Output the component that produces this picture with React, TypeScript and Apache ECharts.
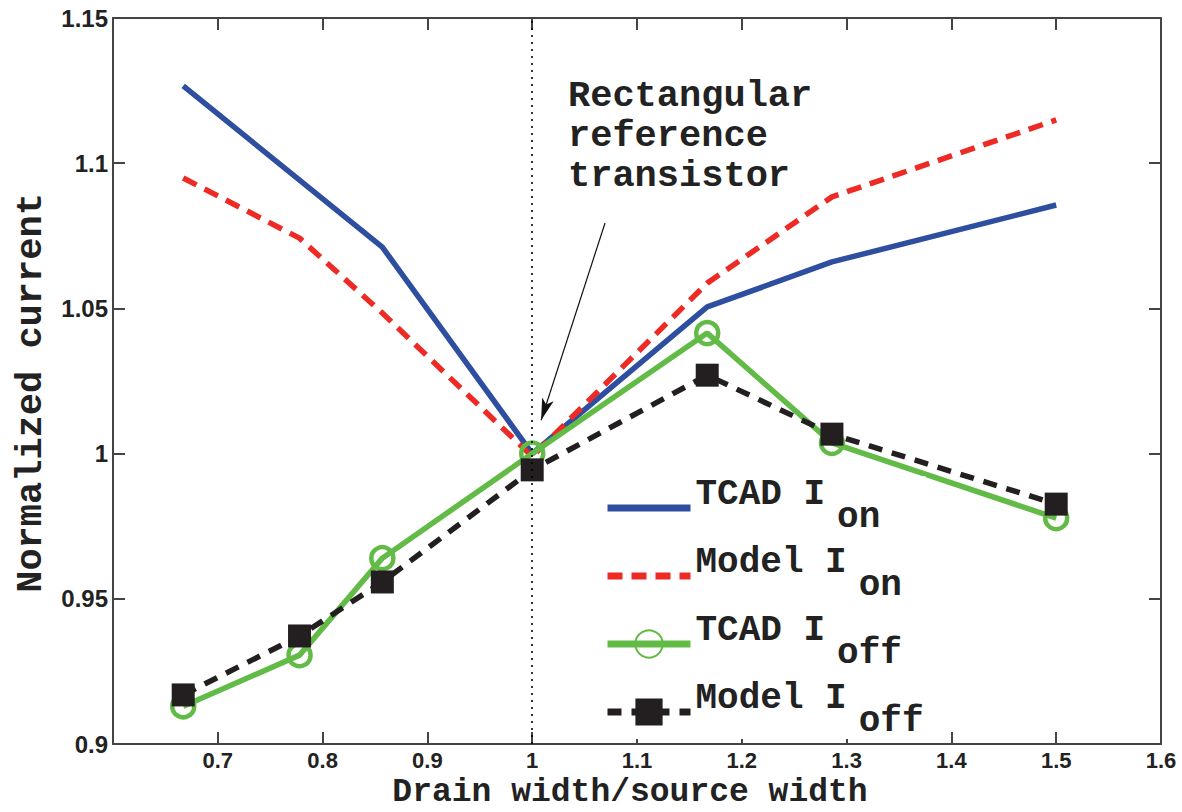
import React, { useEffect, useRef } from 'react';
import * as echarts from 'echarts';

// Drain width / source width ratios (x)
const ratios = [0.667, 0.778, 0.857, 1.0, 1.167, 1.286, 1.5];
// Normalized currents (y)
const tcadIon = [1.1266, 1.0942, 1.0711, 1.0, 1.0505, 1.066, 1.0856];
const modelIon = [1.0949, 1.0742, 1.0484, 0.999, 1.0587, 1.0884, 1.1149];
const tcadIoff = [0.913, 0.9306, 0.964, 1.0, 1.0415, 1.0037, 0.9778];
const modelIoff = [0.9169, 0.9372, 0.9558, 0.9944, 1.027, 1.0067, 0.9826];

const seriesNames = ['TCAD Ion', 'Model Ion', 'TCAD Ioff', 'Model Ioff'];
const legendMain = ['TCAD I', 'Model I', 'TCAD I', 'Model I'];
const legendSub = ['on', 'on', 'off', 'off'];
const legendHasMarker = [false, false, true, true];

const xMin = 0.6, xMax = 1.6, xStep = 0.1;
const yMin = 0.9, yMax = 1.15, yStep = 0.05;
const hiddenXTick = 0.6;

const referenceRatio = 1;
const annotationLines = ['Rectangular', 'reference', 'transistor'];
const arrowFrom = [1.0695, 1.0794];
const arrowTo = [1.0085, 1.0115];

const MONO = '"Liberation Mono", "Courier New", monospace';
const SANS = '"Liberation Sans", Arial, Helvetica, sans-serif';

const zip = (xs: number[], ys: number[]) => xs.map((x, i) => [x, ys[i]]);

export default function App() {
  const ref = useRef<HTMLDivElement>(null);
  useEffect(() => {
    document.body.style.margin = '0';
    const chart = echarts.init(ref.current!, null, { renderer: 'svg' });
    const axisLine = { show: true, lineStyle: { color: '#444', width: 2 } };
    const tick = { show: true, inside: true, length: 12, lineStyle: { color: '#444', width: 2 } };
    const fmtNum = (v: number) => String(parseFloat(v.toFixed(2)));
    const option: any = {
      animation: false,
      backgroundColor: '#fff',
      grid: { left: 113, right: 21, top: 18, bottom: 68, containLabel: false, outerBoundsMode: 'none' },
      xAxis: [
        {
          type: 'value', min: xMin, max: xMax, interval: xStep,
          axisLine, axisTick: tick, splitLine: { show: false },
          axisLabel: {
            margin: 5, color: '#222', fontFamily: SANS, fontSize: 22, lineHeight: 22, fontWeight: 'bold',
            formatter: (v: number) => (Math.abs(v - hiddenXTick) < 1e-9 ? '' : fmtNum(v)),
          },
          name: 'Drain width/source width', nameLocation: 'middle', nameGap: 32, nameMoveOverlap: false,
          nameTextStyle: { fontFamily: MONO, fontSize: 33, lineHeight: 33, fontWeight: 'bold', color: '#222', padding: [0, 14, 0, 0] },
        },
        {
          type: 'value', position: 'top', min: xMin, max: xMax, interval: xStep,
          axisLine, axisTick: tick, axisLabel: { show: false }, splitLine: { show: false },
        },
      ],
      yAxis: [
        {
          type: 'value', min: yMin, max: yMax, interval: yStep,
          axisLine, axisTick: tick, splitLine: { show: false },
          axisLabel: {
            margin: 5, color: '#222', fontFamily: SANS, fontSize: 24, fontWeight: 'bold',
            formatter: (v: number) => fmtNum(v),
          },
          name: 'Normalized current', nameLocation: 'middle', nameGap: 64, nameMoveOverlap: false,
          nameTextStyle: { fontFamily: MONO, fontSize: 37, fontWeight: 'bold', color: '#222', padding: [0, 24, 0, 0] },
        },
        {
          type: 'value', position: 'right', min: yMin, max: yMax, interval: yStep,
          axisLine, axisTick: tick, axisLabel: { show: false }, splitLine: { show: false },
        },
      ],
      legend: {
        orient: 'vertical', left: 596, top: 476, itemWidth: 83, itemHeight: 34, itemGap: 9,
        padding: [0, 2, 0, 8], backgroundColor: '#fff',
        lineStyle: { width: 7 },
        data: seriesNames.map((name, i) =>
          legendHasMarker[i] ? { name } : { name, itemStyle: { opacity: 0 } }
        ),
        formatter: (name: string) => {
          const i = seriesNames.indexOf(name);
          return `{m|${legendMain[i]}}{s|${legendSub[i]}}`;
        },
        textStyle: {
          rich: {
            m: { fontFamily: MONO, fontSize: 36, fontWeight: 'bold', color: '#222', padding: [0, 0, 28, 0] },
            s: { fontFamily: MONO, fontSize: 36, fontWeight: 'bold', color: '#222', padding: [18, 0, 0, 12] },
          },
        },
      },
      series: [
        {
          name: seriesNames[0], type: 'line', data: zip(ratios, tcadIon), symbol: 'none',
          lineStyle: { color: '#2e4ea0', width: 5.5 }, itemStyle: { color: '#2e4ea0' },
          markLine: {
            silent: true, symbol: 'none', label: { show: false },
            lineStyle: { type: [2, 5], color: '#000', width: 1.6 },
            data: [{ xAxis: referenceRatio }],
          },
        },
        {
          name: seriesNames[1], type: 'line', data: zip(ratios, modelIon), symbol: 'none',
          lineStyle: { color: '#ee2a24', width: 5.5, type: [15, 9] }, itemStyle: { color: '#ee2a24' },
        },
        {
          name: seriesNames[2], type: 'line', data: zip(ratios, tcadIoff), symbol: 'circle', symbolSize: 22,
          lineStyle: { color: '#63bb47', width: 5.5 },
          itemStyle: { color: 'rgba(255,255,255,0)', borderColor: '#63bb47', borderWidth: 4.5 },
        },
        {
          name: seriesNames[3], type: 'line', data: zip(ratios, modelIoff), symbol: 'rect', symbolSize: 23,
          lineStyle: { color: '#231f20', width: 5.5, type: [14, 10] },
          itemStyle: { color: '#231f20' },
        },
        {
          name: 'annotation', type: 'line', data: [],
          markLine: {
            silent: true, label: { show: false },
            lineStyle: { type: 'solid', color: '#111', width: 1.2 },
            data: [[
              { coord: arrowFrom, symbol: 'none' },
              { coord: arrowTo, symbol: 'arrow', symbolSize: [9, 22] },
            ]],
          },
        },
      ],
      graphic: [
        {
          type: 'text', left: 568, top: 76, z: 10,
          style: {
            text: annotationLines.join('\n'),
            font: `bold 37px ${MONO}`,
            lineHeight: 40,
            fill: '#222',
          },
        },
      ],
    };
    chart.setOption(option);
    return () => chart.dispose();
  }, []);
  return <div ref={ref} style={{ position: 'fixed', left: 0, top: 0, width: 1182, height: 812 }} />;
}
